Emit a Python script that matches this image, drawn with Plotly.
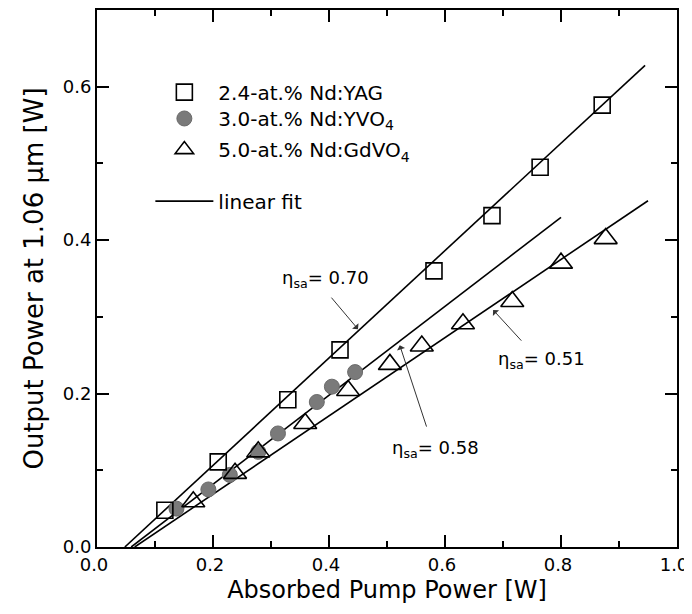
import plotly.graph_objects as go

# ---- data ----
yag_x = [0.117, 0.209, 0.329, 0.419, 0.581, 0.681, 0.764, 0.871]
yag_y = [0.048, 0.111, 0.192, 0.257, 0.360, 0.432, 0.495, 0.576]

yvo_x = [0.137, 0.192, 0.229, 0.278, 0.312, 0.379, 0.405, 0.445]
yvo_y = [0.050, 0.075, 0.094, 0.124, 0.148, 0.189, 0.209, 0.228]

gdvo_x = [0.166, 0.238, 0.278, 0.359, 0.433, 0.505, 0.560, 0.631, 0.716, 0.800, 0.877]
gdvo_y = [0.059, 0.096, 0.124, 0.161, 0.204, 0.238, 0.262, 0.291, 0.320, 0.370, 0.402]

# linear fits: slope efficiencies, thresholds and drawn x-extent
fit_slopes = [0.70, 0.58, 0.51]
fit_thresholds = [0.048, 0.059, 0.065]
fit_x_end = [0.945, 0.80, 0.95]

x_ticks = [0.0, 0.2, 0.4, 0.6, 0.8, 1.0]
y_ticks = [0.0, 0.2, 0.4, 0.6]

FONT = "DejaVu Sans"

fig = go.Figure()

# fit lines
for i, (s, x0, x1) in enumerate(zip(fit_slopes, fit_thresholds, fit_x_end)):
    fig.add_trace(go.Scatter(
        x=[x0, x1], y=[0.0, s * (x1 - x0)], mode="lines",
        line=dict(color="black", width=1.6),
        name="linear fit", showlegend=(i == 0), legend="legend4",
        hoverinfo="skip"))

fig.add_trace(go.Scatter(
    x=yvo_x, y=yvo_y, mode="markers", name="3.0-at.% Nd:YVO<sub>4</sub>",
    marker=dict(symbol="circle", size=15, color="#7a7a7a",
                line=dict(color="#6a6a6a", width=1)),
    legend="legend2"))
fig.add_trace(go.Scatter(
    x=yag_x, y=yag_y, mode="markers", name="2.4-at.% Nd:YAG",
    marker=dict(symbol="square-open", size=16, color="black",
                line=dict(width=1.6)),
    legend="legend"))
fig.add_trace(go.Scatter(
    x=gdvo_x, y=gdvo_y, mode="markers", name="5.0-at.% Nd:GdVO<sub>4</sub>",
    marker=dict(symbol="triangle-up-open", size=20, color="black",
                line=dict(width=1.6)),
    legend="legend3"))

axis_common = dict(
    showline=True, linecolor="black", linewidth=2, mirror="ticks",
    ticks="inside", ticklen=12, tickwidth=2, tickcolor="black",
    showgrid=False, zeroline=False, automargin=False, ticklabeloverflow="allow",
    tickfont=dict(family=FONT, size=18, color="black"),
)

fig.update_xaxes(
    range=[0, 1.0], tickvals=x_ticks, ticktext=[f"{v:.1f}" for v in x_ticks],
    ticklabelshift=-3,
    minor=dict(ticks="inside", ticklen=6, tickwidth=2, tickcolor="black", dtick=0.1, tick0=0),
    title=dict(text="Absorbed Pump Power [W]", font=dict(family=FONT, size=24, color="black"),
               standoff=8),
    **axis_common)
fig.update_yaxes(
    range=[0, 0.70], tickvals=y_ticks, ticktext=[f"{v:.1f}" for v in y_ticks],
    minor=dict(ticks="inside", ticklen=6, tickwidth=2, tickcolor="black", dtick=0.1, tick0=0),
    title=dict(text="Output Power at 1.06 μm [W]", font=dict(family=FONT, size=26, color="black"),
               standoff=12),
    **axis_common)

leg_common = dict(font=dict(family=FONT, size=20, color="black"), bgcolor="rgba(0,0,0,0)",
                  itemwidth=58, xanchor="left", yanchor="middle", itemclick=False)
fig.update_layout(
    showlegend=True,
    legend=dict(x=0.092, y=0.847, **leg_common),
    legend2=dict(x=0.092, y=0.798, **leg_common),
    legend3=dict(x=0.092, y=0.740, **leg_common),
    legend4=dict(x=0.092, y=0.644, **leg_common),
)

# annotations with arrows
ann_font = dict(family=FONT, size=18, color="black")
labels = [
    # text, text_x, text_y, head_x, head_y, tail_x, tail_y
    ("η<sub>sa</sub>= 0.70", 0.394, 0.350, 0.450, 0.284, 0.402, 0.327),
    ("η<sub>sa</sub>= 0.51", 0.766, 0.244, 0.683, 0.309, 0.734, 0.267),
    ("η<sub>sa</sub>= 0.58", 0.583, 0.128, 0.522, 0.263, 0.569, 0.155),
]
for txt, tx, ty, hx, hy, ax, ay in labels:
    fig.add_annotation(x=tx, y=ty, text=txt, showarrow=False, font=ann_font,
                       xref="x", yref="y")
    fig.add_annotation(x=hx, y=hy, ax=ax, ay=ay, xref="x", yref="y", axref="x", ayref="y",
                       text="", showarrow=True, arrowhead=1, arrowsize=1.4, arrowwidth=1,
                       arrowcolor="#333333")

# the page body adds an 8 px offset, so the figure is 8 px smaller and the
# margins are reduced by 8 px on the left/top to land the plot area correctly
fig.update_layout(
    width=684, height=606,
    margin=dict(l=89, r=15, t=2, b=67),
    plot_bgcolor="white", paper_bgcolor="white",
    font=dict(family=FONT, color="black"),
)

fig.write_html("out.html")
